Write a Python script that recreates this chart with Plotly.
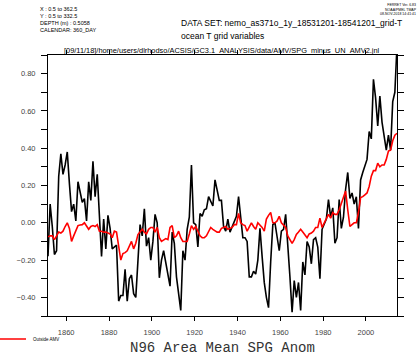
import plotly.graph_objects as go

# ---- data (annual values, plotted at mid-year) ----
start_year = 1851
spg_anom = [
    -0.18, 0.10, -0.02, -0.17, -0.15, 0.25, 0.37, 0.26, 0.31, 0.38,   # 1851-1860
    0.21, 0.06, 0.10, 0.01, 0.22, 0.16, 0.11, 0.13, 0.01, 0.22,       # 1861-1870
    0.12, 0.33, 0.14, 0.26, 0.07, -0.18, 0.02, -0.14, 0.04, -0.03,    # 1871-1880
    -0.14, -0.13, -0.12, -0.42, -0.39, -0.39, -0.25, -0.42, -0.30, -0.28,  # 1881-1890
    -0.38, -0.40, -0.18, -0.01, -0.07, 0.075, -0.125, -0.08, -0.20, -0.10,  # 1891-1900
    0.045, 0.00, -0.295, -0.20, -0.15, -0.21, -0.27, -0.34, -0.05, -0.11,   # 1901-1910
    -0.29, -0.38, -0.47, -0.15, -0.20, -0.035, 0.03, 0.31, 0.00, -0.01,     # 1911-1920
    -0.13, 0.05, 0.035, 0.07, 0.075, 0.14, 0.11, 0.09, 0.23, 0.18,          # 1921-1930
    0.12, 0.12, -0.02, -0.045, 0.02, -0.05, -0.02, 0.00, 0.035, 0.14,       # 1931-1940
    0.03, -0.08, -0.08, -0.10, -0.29, -0.29, -0.26, -0.275, -0.20, -0.03,   # 1941-1950
    -0.18, -0.32, -0.40, -0.455, -0.21, -0.01, 0.00, -0.065, -0.15, -0.045, # 1951-1960
    -0.035, 0.045, -0.11, -0.29, -0.48, -0.31, -0.40, -0.32, -0.47, -0.21,  # 1961-1970
    -0.28, -0.10, -0.13, -0.22, -0.09, -0.08, -0.13, -0.30, -0.035, -0.01,  # 1971-1980
    0.02, 0.125, 0.03, 0.08, -0.11, -0.08, 0.125, -0.03, 0.03, 0.18,        # 1981-1990
    0.27, 0.13, 0.16, 0.10, 0.14, -0.03, 0.23, 0.27, 0.30, 0.34,            # 1991-2000
    0.49, 0.45, 0.77, 0.67, 0.52, 0.68, 0.54, 0.47, 0.39, 0.47,             # 2001-2010
    0.39, 0.65, 0.70, 0.95,                                                 # 2011-2014
]
outside_amv = [
    -0.075, -0.07, -0.07, -0.09, -0.07, -0.05, -0.055, -0.045, -0.02, 0.0,     # 1851-1860
    -0.03, -0.10, -0.07, -0.045, -0.015, -0.012, -0.01, 0.0, -0.015, -0.035,   # 1861-1870
    -0.02, -0.015, -0.02, -0.01, -0.045, -0.045, -0.05, -0.05, -0.055, -0.06,  # 1871-1880
    -0.08, -0.045, -0.05, -0.125, -0.20, -0.165, -0.16, -0.15, -0.125, -0.10,  # 1881-1890
    -0.14, -0.11, -0.063, -0.05, -0.035, -0.05, -0.06, -0.035, -0.025, -0.025, # 1891-1900
    -0.05, -0.025, -0.08, -0.10, -0.09, -0.085, -0.09, -0.025, -0.015, -0.08,  # 1901-1910
    -0.07, -0.045, -0.08, -0.10, -0.10, -0.10, -0.06, -0.015, -0.035, -0.02,   # 1911-1920
    -0.045, -0.07, -0.08, -0.08, -0.07, -0.045, -0.025, -0.035, -0.045, -0.05, # 1921-1930
    -0.05, -0.03, -0.025, -0.02, -0.035, -0.03, -0.025, -0.01, -0.01, 0.05,    # 1931-1940
    0.0, -0.01, -0.015, -0.045, -0.02, 0.0, -0.02, -0.035, 0.0, -0.01,         # 1941-1950
    -0.025, -0.045, 0.02, 0.04, 0.055, 0.0, 0.0, 0.01, 0.035, 0.0,             # 1951-1960
    -0.01, -0.025, -0.07, -0.09, -0.11, -0.09, -0.063, -0.05, -0.035, -0.05,   # 1961-1970
    -0.065, -0.08, -0.06, -0.055, -0.045, -0.025, -0.025, 0.025, -0.025, 0.0,  # 1971-1980
    0.02, 0.045, 0.025, 0.055, 0.045, 0.045, 0.07, 0.105, 0.13, 0.17,          # 1981-1990
    0.07, -0.02, -0.01, 0.0, 0.0, 0.055, 0.135, 0.14, 0.15, 0.16,              # 1991-2000
    0.195, 0.25, 0.28, 0.28, 0.32, 0.30, 0.31, 0.31, 0.34, 0.385,              # 2001-2010
    0.39, 0.44, 0.47, 0.48,                                                    # 2011-2014
]
years = [start_year + i + 0.5 for i in range(len(spg_anom))]
x_ticks = [1860, 1880, 1900, 1920, 1940, 1960, 1980, 2000]
y_ticks = [-0.4, -0.2, 0.0, 0.2, 0.4, 0.6, 0.8]
y_tick_labels = ["\u22120.40", "\u22120.20", "0.00", "0.20", "0.40", "0.60", "0.80"]

W, H = 420, 356
L, R, T, B = 48, 23, 55, 40
pw, ph = W - L - R, H - T - B


def px(x):
    return (x - L) / pw


def py(y):
    return (H - B - y) / ph


fig = go.Figure()
fig.add_trace(go.Scatter(x=years, y=spg_anom, mode="lines",
                         line=dict(color="black", width=1.6), showlegend=False,
                         name="SPG Anom"))
fig.add_trace(go.Scatter(x=years, y=outside_amv, mode="lines",
                         line=dict(color="#ff0000", width=1.6), showlegend=False,
                         name="Outside AMV"))

axis_common = dict(showgrid=False, zeroline=False, showline=True, linecolor="black",
                   linewidth=1, mirror="ticks", ticks="outside", tickcolor="black",
                   tickwidth=1, tickfont=dict(family="Liberation Sans", size=7.5, color="#444"))
fig.update_xaxes(range=[1851.5, 2014.5], tickvals=x_ticks, ticklen=4,
                 ticklabelstandoff=5, **axis_common)
fig.update_yaxes(range=[-0.5, 0.9], tickvals=y_ticks, ticktext=y_tick_labels, ticklen=6,
                 ticklabelstandoff=4,
                 minor=dict(dtick=0.1, tick0=0, ticks="outside", ticklen=6, tickcolor="black"),
                 **axis_common)

ann = []
sans = "Liberation Sans"
ann.append(dict(text="X : 0.5 to 362.5<br>Y : 0.5 to 332.5<br>DEPTH (m) : 0.5058<br>CALENDAR: 360_DAY",
                x=px(38), y=py(4), xanchor="left", yanchor="top", align="left",
                font=dict(family=sans, size=5.5, color="black")))
ann.append(dict(text="DATA SET: nemo_as371o_1y_18531201-18541201_grid-T",
                x=px(179), y=py(23), xanchor="left", yanchor="middle",
                font=dict(family=sans, size=8.5, color="black")))
ann.append(dict(text="ocean T grid variables",
                x=px(179), y=py(36), xanchor="left", yanchor="middle",
                font=dict(family=sans, size=8.5, color="black")))
ann.append(dict(text="[09/11/18]/home/users/dlrhodso/ACSIS/GC3.1_ANALYSIS/data/AMV/SPG_minus_UN_AMV2.jnl",
                x=px(62), y=py(50), xanchor="left", yanchor="middle",
                font=dict(family=sans, size=7.4, color="black")))
ann.append(dict(text="FERRET Ver. 6.83<br>NOAA/PMEL TMAP<br>08-NOV-2018 14:41:41",
                x=px(419), y=py(1), xanchor="right", yanchor="top", align="right",
                font=dict(family=sans, size=3.5, color="black")))
ann.append(dict(text="Outside AMV", x=px(31), y=py(339), xanchor="left", yanchor="middle",
                font=dict(family=sans, size=4.5, color="black")))
ann.append(dict(text="N96 Area Mean SPG Anom", x=0.5, y=py(348), xanchor="center",
                yanchor="middle", font=dict(family="Liberation Mono", size=14, color="#333")))
for a in ann:
    a.update(xref="paper", yref="paper", showarrow=False)

fig.update_layout(
    width=W, height=H, margin=dict(l=L, r=R, t=T, b=B),
    paper_bgcolor="white", plot_bgcolor="white",
    annotations=ann,
    shapes=[dict(type="line", xref="paper", yref="paper", x0=px(0), x1=px(26),
                 y0=py(339), y1=py(339), line=dict(color="#ff0000", width=1.5))],
)
fig.write_html("out.html", config={"displayModeBar": False},
               post_script="document.body.style.margin='0';document.body.style.overflow='hidden';")
